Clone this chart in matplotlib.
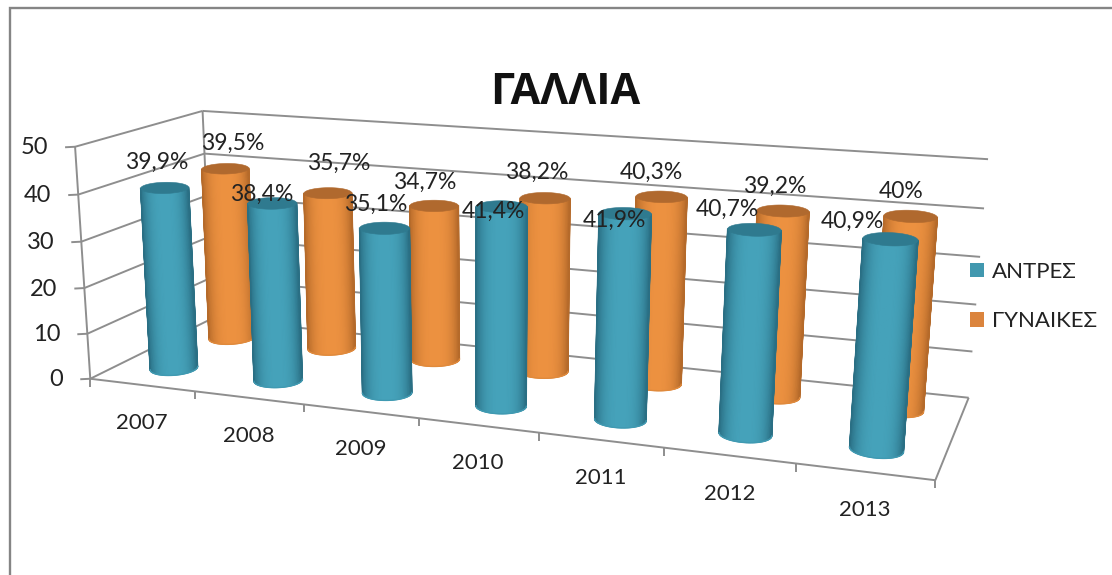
import numpy as np
import matplotlib
matplotlib.use("Agg")
import matplotlib.pyplot as plt
from matplotlib.colors import LinearSegmentedColormap
from matplotlib.patches import Patch, Polygon

plt.rcParams['font.family'] = ['Lato', 'Noto Sans', 'DejaVu Sans']

title = "ΓΑΛΛΙΑ"
years = ["2007", "2008", "2009", "2010", "2011", "2012", "2013"]
men = [39.9, 38.4, 35.1, 41.4, 41.9, 40.7, 40.9]
women = [39.5, 35.7, 34.7, 38.2, 40.3, 39.2, 40.0]
men_labels = ["39,9%", "38,4%", "35,1%", "41,4%", "41,9%", "40,7%", "40,9%"]
women_labels = ["39,5%", "35,7%", "34,7%", "38,2%", "40,3%", "39,2%", "40%"]
series_names = ["ΑΝΤΡΕΣ", "ΓΥΝΑΙΚΕΣ"]
y_ticks = [0, 10, 20, 30, 40, 50]

# Layout: pixel offset of each data label from the top of its cylinder
men_label_offset = [(-8, -26), (-10, -9), (-9, -24), (-8, 5), (-11, 7), (-27, -20), (-38, -18)]
women_label_offset = [(7, -25), (11, -30), (-9, -24), (-8, -26), (-10, -25), (-8, -25), (-10, -25)]

W, H = 1112, 575
GRAY = "#8e8e8e"
TEXT = "#222222"

# Camera: fit a projective matrix from (category, depth, value) to pixels
n = len(years)
VMAX = y_ticks[-1]
world = [(0, 0, 0), (n, 0, 0), (n, 1, 0), (0, 1, 0),
         (0, 0, VMAX), (n, 0, VMAX), (n, 1, VMAX), (0, 1, VMAX),
         (1, 0, 0), (2, 0, 0), (3, 0, 0), (6, 0, 0)]
screen = [(91, 377), (936, 479), (969, 397), (213, 322),
          (76, 145), (957, 215), (987, 157), (202, 110),
          (194, 392), (303, 405), (417, 418), (797, 462)]
A, b = [], []
for (x, s, v), (u, w) in zip(world, screen):
    A.append([x, s, v, 1, 0, 0, 0, 0, -u * x, -u * s, -u * v])
    b.append(u)
    A.append([0, 0, 0, 0, x, s, v, 1, -w * x, -w * s, -w * v])
    b.append(w)
m = np.linalg.lstsq(np.array(A, float), np.array(b, float), rcond=None)[0]
M = np.append(m, 1).reshape(3, 4)


def P(x, s, v):
    q = M @ np.array([x, s, v, 1.0])
    return q[:2] / q[2]


fig = plt.figure(figsize=(W / 100, H / 100), dpi=100)
ax = fig.add_axes([0, 0, 1, 1])
ax.set_xlim(0, W)
ax.set_ylim(H, 0)
ax.axis("off")

# Outer chart frame
ax.plot([10, 10, W], [H, 7.5, 7.5], color="#858585", lw=1.7, zorder=1, solid_joinstyle="miter")


def seg(a, b):
    ax.plot([a[0], b[0]], [a[1], b[1]], color=GRAY, lw=1.4, solid_capstyle="butt", zorder=2)


# Walls, gridlines and ticks
for t in y_ticks:
    seg(P(0, 0, t), P(0, 1, t))
    seg(P(0, 1, t), P(n, 1, t))
    a = P(0, 0, t)
    seg(a, a + np.array([-10, 0.5]))
    ax.text(a[0] - 27, a[1] + 1, str(t), ha="right", va="center", fontsize=17, color=TEXT, zorder=6)
seg(P(0, 0, 0), P(0, 0, VMAX))
seg(P(0, 1, 0), P(0, 1, VMAX))
seg(P(n, 1, 0), P(n, 0, 0))
seg(P(0, 0, 0), P(n, 0, 0))
for i in range(n + 1):
    a = P(i, 0, 0)
    seg(a, a + np.array([0, 8]))
for i, y in enumerate(years):
    a = P(i + 0.5, 0, 0)
    ax.text(a[0], a[1] + 38, y, ha="center", va="center", fontsize=16, color=TEXT, zorder=6)


def ring(xc, sc, v):
    """Screen-space ellipse axes of the cylinder section at height v."""
    c = P(xc, sc, v)
    cat_w = P(xc + 0.5, sc, v)[0] - P(xc - 0.5, sc, v)[0]
    depth_y = abs(P(xc, sc + 0.5, v)[1] - P(xc, sc - 0.5, v)[1])
    return c, 13.5 + 0.1 * cat_w, 2.5 + 0.07 * depth_y


def cylinder(i, sc, value, cmap, top, edge, rim, z):
    f = i / (n - 1)
    t0, t1 = -0.07 + 0.16 * f, -0.02 + 0.06 * f
    c0, a0, h0 = ring(i + 0.5, sc, 0)
    c1, a1, h1 = ring(i + 0.5, sc, value)
    phi = np.linspace(np.pi, 0, 61)          # front half, left to right
    low = np.c_[c0[0] + a0 * np.cos(phi), c0[1] + a0 * t0 * np.cos(phi) + h0 * np.sin(phi)]
    up = np.c_[c1[0] + a1 * np.cos(phi), c1[1] + a1 * t1 * np.cos(phi) + h1 * np.sin(phi)]
    X = np.vstack([low[:, 0], up[:, 0]])
    Y = np.vstack([low[:, 1], up[:, 1]])
    C = np.vstack([np.abs(np.cos(phi)) ** 3] * 2)
    ax.pcolormesh(X, Y, C, shading="gouraud", cmap=cmap, vmin=0, vmax=1, zorder=z)
    # Smooth silhouette over the aliased mesh edge
    ax.plot([low[0, 0], up[0, 0]], [low[0, 1], up[0, 1]], color=edge, lw=1.0, zorder=z + 0.05)
    ax.plot([low[-1, 0], up[-1, 0]], [low[-1, 1], up[-1, 1]], color=edge, lw=1.0, zorder=z + 0.05)
    ax.plot(low[:, 0], low[:, 1], color=rim, lw=1.0, zorder=z + 0.05)
    psi = np.linspace(0, 2 * np.pi, 73)
    lid = np.c_[c1[0] + a1 * np.cos(psi), c1[1] + a1 * t1 * np.cos(psi) + h1 * np.sin(psi)]
    ax.add_patch(Polygon(lid, closed=True, facecolor=top, edgecolor=top, lw=0.4, zorder=z + 0.1))


orange_map = LinearSegmentedColormap.from_list("o", ["#EC9140", "#B56A2A"])
blue_map = LinearSegmentedColormap.from_list("b", ["#45A2BA", "#2A6F84"])
for i, v in enumerate(women):
    cylinder(i, 0.75, v, orange_map, "#B0692E", "#B56A2A", "#E08A3C", 3)
for i, v in enumerate(men):
    cylinder(i, 0.25, v, blue_map, "#2F7A8F", "#2A6F84", "#409AB2", 4)
ax.set_xlim(0, W)
ax.set_ylim(H, 0)

# Data labels
for i, (v, lab) in enumerate(zip(men, men_labels)):
    a = P(i + 0.5, 0.25, v) + np.array(men_label_offset[i])
    ax.text(a[0], a[1], lab, ha="center", va="center", fontsize=16.5, color=TEXT, zorder=7)
for i, (v, lab) in enumerate(zip(women, women_labels)):
    a = P(i + 0.5, 0.75, v) + np.array(women_label_offset[i])
    ax.text(a[0], a[1], lab, ha="center", va="center", fontsize=16.5, color=TEXT, zorder=7)

ax.text(565, 93, title, ha="center", va="center", fontsize=31, fontweight="bold",
        family=["Open Sans", "DejaVu Sans"], color="#111111", zorder=7)

handles = [Patch(facecolor="#4198AF", edgecolor="none"), Patch(facecolor="#DB843D", edgecolor="none")]
leg = ax.legend(handles, series_names, loc="upper left", bbox_to_anchor=(952 / W, 1 - 244 / H),
                frameon=False, fontsize=16, handlelength=0.63, handleheight=0.63,
                handletextpad=0.36, labelspacing=1.33, borderpad=0.3, labelcolor=TEXT)

fig.savefig("out.png", dpi=100)
